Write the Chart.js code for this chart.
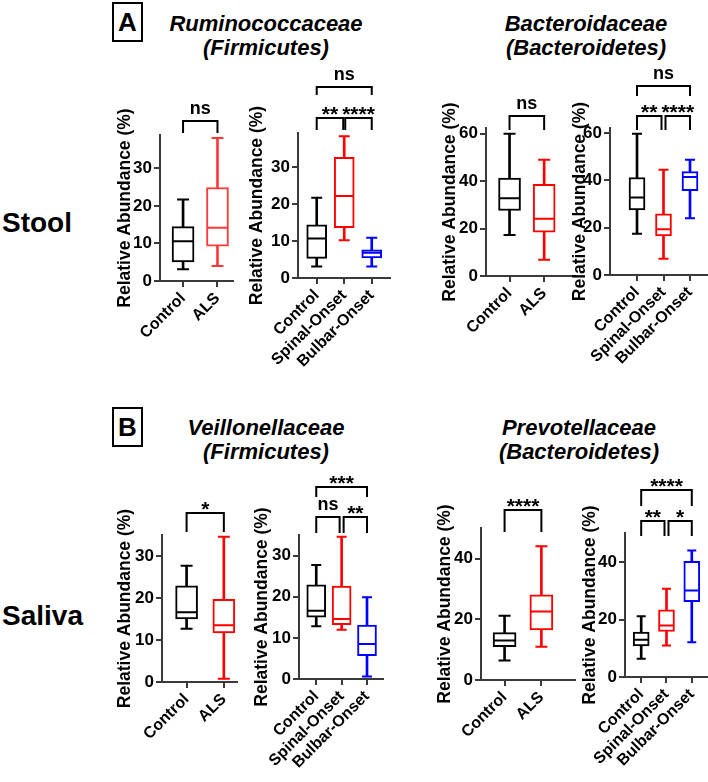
<!DOCTYPE html>
<html>
<head>
<meta charset="utf-8">
<script src="https://cdn.jsdelivr.net/npm/chart.js@4.4.0/dist/chart.umd.min.js"></script>
<style>
body { margin: 0; background: #fff; width: 708px; height: 782px; overflow: hidden; position: relative;
       font-family: 'Liberation Sans', Arial, sans-serif; color: #000; }
canvas { position: absolute; }
.title { position: absolute; width: 260px; text-align: center; font-weight: bold; font-style: italic;
         font-size: 22px; line-height: 24px; }
.tag { position: absolute; width: 27px; height: 36px; border: 2px solid #000; font-weight: bold;
       font-size: 26px; line-height: 37px; text-align: center; }
.side { position: absolute; left: 2px; font-weight: bold; font-size: 28px; line-height: 32px; }
</style>
</head>
<body>
<div class="tag" style="left:112px;top:2px">A</div>
<div class="title" style="left:136px;top:12px">Ruminococcaceae<br>(Firmicutes)</div>
<div class="title" style="left:456px;top:12px">Bacteroidaceae<br>(Bacteroidetes)</div>
<div class="side" style="top:207px">Stool</div>

<div class="tag" style="left:112px;top:407px">B</div>
<div class="title" style="left:136px;top:416px">Veillonellaceae<br>(Firmicutes)</div>
<div class="title" style="left:449px;top:416px">Prevotellaceae<br>(Bacteroidetes)</div>
<div class="side" style="top:600px">Saliva</div>

<script>
var groups2 = ['Control', 'ALS'];
var groups3 = ['Control', 'Spinal-Onset', 'Bulbar-Onset'];

// each box: [min, Q1, median, Q3, max] in %
var rumiAls = [[3.1, 5.1, 10.6, 14.5, 21.7], [4.0, 9.3, 14.2, 24.9, 38.1]];
var rumiOnset = [[3.1, 5.3, 10.7, 14.4, 21.7], [10.2, 13.6, 22.2, 32.6, 38.3], [3.1, 5.4, 6.8, 7.6, 10.9]];
var bactAls = [[17.3, 27.6, 32.8, 41.3, 60], [6.8, 18.5, 24.1, 38.7, 49]];
var bactOnset = [[17.4, 27.5, 32.7, 41.2, 59.7], [6.9, 16.5, 19.3, 25.8, 44.5], [24, 35.6, 41.4, 43.7, 48.7]];
var veilAls = [[12.7, 15.0, 16.6, 22.9, 27.7], [0.8, 11.7, 13.5, 19.7, 34.6]];
var veilOnset = [[12.8, 15.0, 16.6, 22.9, 27.7], [12.0, 13.2, 14.6, 22.6, 34.6], [0.6, 5.7, 8.5, 13.1, 19.9]];
var prevAls = [[6.4, 11.0, 13.0, 15.6, 21.2], [11.0, 16.5, 22.6, 28.1, 44.1]];
var prevOnset = [[6.4, 10.9, 13.0, 15.7, 21.2], [11.0, 15.9, 18.0, 23.5, 30.8], [12.1, 26.3, 30.2, 40.4, 44.2]];

// y tick labels
var ticks30 = [0, 10, 20, 30];
var ticks60 = [0, 20, 40, 60];
var ticks40 = [0, 20, 40];

// comparisons: [from group, to group, label, bracket level]
var rumiAlsStats = [[0, 1, 'ns', 0]];
var rumiOnsetStats = [[0, 1, '**', 0], [1, 2, '****', 0], [0, 2, 'ns', 1]];
var bactAlsStats = [[0, 1, 'ns', 0]];
var bactOnsetStats = [[0, 1, '**', 0], [1, 2, '****', 0], [0, 2, 'ns', 1]];
var veilAlsStats = [[0, 1, '*', 0]];
var veilOnsetStats = [[0, 1, 'ns', 0], [1, 2, '**', 0], [0, 2, '***', 1]];
var prevAlsStats = [[0, 1, '****', 0]];
var prevOnsetStats = [[0, 1, '**', 0], [1, 2, '*', 0], [0, 2, '****', 1]];

var K = '#000000', R = '#ff0000', B = '#0000ff';
var FONT = "'Liberation Sans', Arial, sans-serif";
var AXIS = '#3a3a3a';

var panels = [
    {box: rumiAls, cats: groups2, stats: rumiAlsStats, ticks: ticks30, colors: [K, '#ff3838'],
     axisX: 160, axisEnd: 233, top: 135, base: 281, xMin: 0.33, xMax: 2.48, yMax: 38.9,
     boxW: 22, capW: 12, titleOff: 35, levels: [[-14, -2]], gap: 2},
    {box: rumiOnset, cats: groups3, stats: rumiOnsetStats, ticks: ticks30, colors: [K, R, B],
     axisX: 298, axisEnd: 390, top: 133, base: 278, xMin: 0.32, xMax: 3.70, yMax: 39.2,
     boxW: 20, capW: 11, titleOff: 41, levels: [[-15, -3], [-46, -38]], gap: 1},
    {box: bactAls, cats: groups2, stats: bactAlsStats, ticks: ticks60, colors: [K, R],
     axisX: 486, axisEnd: 575, top: 128, base: 276, xMin: 0.32, xMax: 2.92, yMax: 62.4,
     boxW: 22, capW: 12, titleOff: 36, levels: [[-12, 2]], gap: 2},
    {box: bactOnset, cats: groups3, stats: bactOnsetStats, ticks: ticks60, colors: [K, R, B],
     axisX: 610, axisEnd: 707, top: 128, base: 275, xMin: -0.02, xMax: 3.68, yMax: 62.1,
     boxW: 16, capW: 10, titleOff: 30, levels: [[-12, 2], [-42, -32]], gap: 2},
    {box: veilAls, cats: groups2, stats: veilAlsStats, ticks: ticks30, colors: [K, R],
     axisX: 162, axisEnd: 237, top: 535, base: 682, xMin: 0.34, xMax: 2.38, yMax: 35,
     boxW: 22, capW: 12, titleOff: 37, levels: [[-22, -3]], gap: 2},
    {box: veilOnset, cats: groups3, stats: veilOnsetStats, ticks: ticks30, colors: [K, R, B],
     axisX: 299, axisEnd: 383, top: 535, base: 679, xMin: 0.32, xMax: 3.67, yMax: 35,
     boxW: 19, capW: 10, titleOff: 37, levels: [[-18, -2], [-48, -38]], gap: 2},
    {box: prevAls, cats: groups2, stats: prevAlsStats, ticks: ticks40, colors: [K, R],
     axisX: 481, axisEnd: 575, top: 528, base: 680, xMin: 0.36, xMax: 2.94, yMax: 50.1,
     boxW: 23, capW: 12, titleOff: 36, levels: [[-18, 4]], gap: 2},
    {box: prevOnset, cats: groups3, stats: prevOnsetStats, ticks: ticks40, colors: [K, R, B],
     axisX: 625, axisEnd: 708, top: 533, base: 677, xMin: 0.36, xMax: 3.68, yMax: 50.3,
     boxW: 16, capW: 9, titleOff: 35, levels: [[-12, 3], [-43, -27]], gap: 2}
];

function boxExtras(p) {
    return {
        id: 'boxExtras',
        afterDatasetsDraw: function (chart) {
            var ctx = chart.ctx, xs = chart.scales.x, ys = chart.scales.y;
            ctx.save();
            ctx.lineWidth = 2;
            p.box.forEach(function (b, i) {
                var xc = xs.getPixelForValue(i + 1);
                ctx.strokeStyle = p.colors[i];
                ctx.beginPath();
                // median
                ctx.moveTo(xc - p.boxW / 2 + 1, ys.getPixelForValue(b[2]));
                ctx.lineTo(xc + p.boxW / 2 - 1, ys.getPixelForValue(b[2]));
                // whisker caps
                ctx.moveTo(xc - p.capW / 2, ys.getPixelForValue(b[0]));
                ctx.lineTo(xc + p.capW / 2, ys.getPixelForValue(b[0]));
                ctx.moveTo(xc - p.capW / 2, ys.getPixelForValue(b[4]));
                ctx.lineTo(xc + p.capW / 2, ys.getPixelForValue(b[4]));
                ctx.stroke();
            });
            ctx.restore();
        },
        afterDraw: function (chart) {
            var ctx = chart.ctx, xs = chart.scales.x, top = chart.chartArea.top;
            ctx.save();
            ctx.strokeStyle = '#000';
            ctx.fillStyle = '#000';
            ctx.lineWidth = 2;
            ctx.textAlign = 'center';
            ctx.textBaseline = 'alphabetic';
            p.stats.forEach(function (s) {
                var lv = p.levels[s[3]];
                var x1 = xs.getPixelForValue(s[0] + 1), x2 = xs.getPixelForValue(s[1] + 1);
                p.stats.forEach(function (o) {
                    if (o !== s && o[3] === s[3]) {
                        if (o[1] === s[0]) x1 += p.gap;
                        if (o[0] === s[1]) x2 -= p.gap;
                    }
                });
                var ly = top + lv[0], le = top + lv[1];
                ctx.beginPath();
                ctx.moveTo(x1, le);
                ctx.lineTo(x1, ly);
                ctx.lineTo(x2, ly);
                ctx.lineTo(x2, le);
                ctx.stroke();
                if (s[2].indexOf('*') >= 0) {
                    ctx.font = 'bold 21px ' + FONT;
                    ctx.fillText(s[2], (x1 + x2) / 2, ly + 3);
                } else {
                    ctx.font = 'bold 18px ' + FONT;
                    ctx.fillText(s[2], (x1 + x2) / 2, ly - 7);
                }
            });
            ctx.restore();
        }
    };
}

function makeConfig(p) {
    var xVals = p.cats.map(function (c, i) { return i + 1; });
    return {
        type: 'bar',
        data: {
            datasets: [{
                label: 'IQR',
                data: p.box.map(function (b, i) { return {x: i + 1, y: [b[1], b[3]]}; }),
                backgroundColor: '#ffffff',
                borderColor: p.colors,
                borderWidth: 2,
                borderSkipped: false,
                barThickness: p.boxW,
                grouped: false,
                order: 0
            }, {
                label: 'range',
                data: p.box.map(function (b, i) { return {x: i + 1, y: [b[0], b[4]]}; }),
                backgroundColor: p.colors,
                borderWidth: 0,
                barThickness: 2,
                grouped: false,
                order: 1
            }]
        },
        options: {
            responsive: false,
            animation: false,
            layout: {padding: {top: 80, left: 0, right: 0, bottom: 0}},
            plugins: {legend: {display: false}, tooltip: {enabled: false}},
            scales: {
                x: {
                    type: 'linear', min: p.xMin, max: p.xMax, offset: false,
                    afterBuildTicks: function (s) { s.ticks = xVals.map(function (v) { return {value: v}; }); },
                    afterFit: function (s) { s.height = 95; s.paddingLeft = 0; s.paddingRight = 0; },
                    ticks: {
                        autoSkip: false, minRotation: 45, maxRotation: 45, padding: 2, color: '#000',
                        font: {family: FONT, size: 16, weight: 'bold'},
                        callback: function (v) { return p.cats[Math.round(v) - 1]; }
                    },
                    grid: {offset: false, drawOnChartArea: false, tickLength: 6, color: AXIS, lineWidth: 2},
                    border: {color: AXIS, width: 2}
                },
                y: {
                    min: 0, max: p.yMax,
                    afterBuildTicks: function (s) { s.ticks = p.ticks.map(function (v) { return {value: v}; }); },
                    afterFit: function (s) { s.width = 60; s.paddingTop = 0; s.paddingBottom = 0; },
                    ticks: {padding: 2, color: '#000', font: {family: FONT, size: 17, weight: 'bold'}},
                    grid: {drawOnChartArea: false, tickLength: 6, color: AXIS, lineWidth: 2},
                    border: {color: AXIS, width: 2},
                    title: {
                        display: true, text: 'Relative Abundance (%)', color: '#000',
                        font: {family: FONT, size: 17.5, weight: 'bold'},
                        padding: {top: 60 - p.titleOff - 10.5, bottom: 0}
                    }
                }
            }
        },
        plugins: [boxExtras(p)]
    };
}

panels.forEach(function (p) {
    var c = document.createElement('canvas');
    var left = p.axisX - 60, top = p.top - 80;
    c.width = p.axisEnd + 1 - left;
    c.height = p.base - top + 95;
    c.style.left = left + 'px';
    c.style.top = top + 'px';
    document.body.appendChild(c);
    new Chart(c.getContext('2d'), makeConfig(p));
});
</script>
</body>
</html>
